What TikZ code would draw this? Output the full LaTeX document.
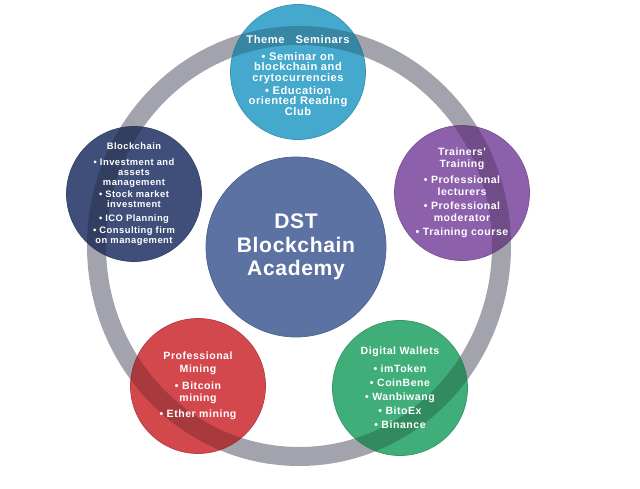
\documentclass[tikz,border=0pt]{standalone}
\usepackage{fontspec}
\usepackage{xcolor}
\usepackage{tikz}
\usetikzlibrary{positioning}
\newfontfamily\capfont[LetterSpace=5]{Liberation Sans}
\newfontfamily\titlefont[LetterSpace=3]{Liberation Sans}
\definecolor{ringgray}{HTML}{A2A3AC}
\definecolor{seminarblue}{HTML}{45A8CD}
\definecolor{trainpurple}{HTML}{8C60AB}
\definecolor{walletgreen}{HTML}{3FAE79}
\definecolor{minered}{HTML}{D2484D}
\definecolor{chainnavy}{HTML}{3F4F7A}
\definecolor{centerblue}{HTML}{5B72A3}

\begin{document}
\begin{tikzpicture}[x=0.03cm, y=-0.03cm,
  bubble/.style ={circle, fill=#1, draw=#1!85!black, line width=0.6pt, inner sep=0pt, minimum size=4.05cm},
  caption/.style ={text=white, align=center, inner sep=0pt}]
\useasboundingbox (0,0) rectangle (640,489);
% ring behind the bubbles
\fill[ringgray, even odd rule] (299,246) ellipse [x radius=212, y radius=220]
                                (299,246) ellipse [x radius=193, y radius=201];
\node[bubble=centerblue, minimum size=5.4cm] (0) at (296,247) {};
\node[bubble=seminarblue] (1) at (298,72) {};
\node[bubble=trainpurple] (2) at (462,193) {};
\node[bubble=walletgreen] (3) at (400,388) {};
\node[bubble=minered] (4) at (198,386) {};
\node[bubble=chainnavy] (5) at (134,194) {};
% ring seen through the bubbles
\begin{scope}
  \clip (1) circle [radius=67.5] (2) circle [radius=67.5] (3) circle [radius=67.5]
        (4) circle [radius=67.5] (5) circle [radius=67.5];
  \fill[black, opacity=0.2, even odd rule] (299,246) ellipse [x radius=212, y radius=220]
                                            (299,246) ellipse [x radius=193, y radius=201];
\end{scope}
\node[caption, font=\titlefont\bfseries\fontsize{18}{20}\selectfont] (t0) at (0) {DST\\Blockchain\\Academy};
\node[caption, font=\capfont\bfseries\fontsize{9.5}{9}\selectfont, yshift=-3pt] (t1) at (1)
  {Theme\ \ \ Seminars\\[5pt] • Seminar on\\ blockchain and\\ crytocurrencies\\[2pt] • Education\\ oriented Reading\\ Club};
\node[caption, font=\capfont\bfseries\fontsize{9}{10}\selectfont] (t2) at (2)
  {Trainers'\\ Training\\[4pt] • Professional\\ lecturers\\[2pt] • Professional\\ moderator\\[2pt] • Training course};
\node[caption, font=\capfont\bfseries\fontsize{9}{12}\selectfont] (t3) at (3)
  {Digital Wallets\\[3pt] • imToken\\ • CoinBene\\ • Wanbiwang\\ • BitoEx\\ • Binance};
\node[caption, font=\capfont\bfseries\fontsize{9}{10.5}\selectfont] (t4) at (4)
  {Professional\\ Mining\\[4pt] • Bitcoin\\ mining\\[3pt] • Ether mining};
\node[caption, font=\capfont\bfseries\fontsize{8}{8.5}\selectfont] (t5) at (5)
  {Blockchain\\[5pt] • Investment and\\ assets\\ management\\[2pt] • Stock market\\ investment\\[3pt] • ICO Planning\\[2pt] • Consulting firm\\ on management};
\end{tikzpicture}
\end{document}
